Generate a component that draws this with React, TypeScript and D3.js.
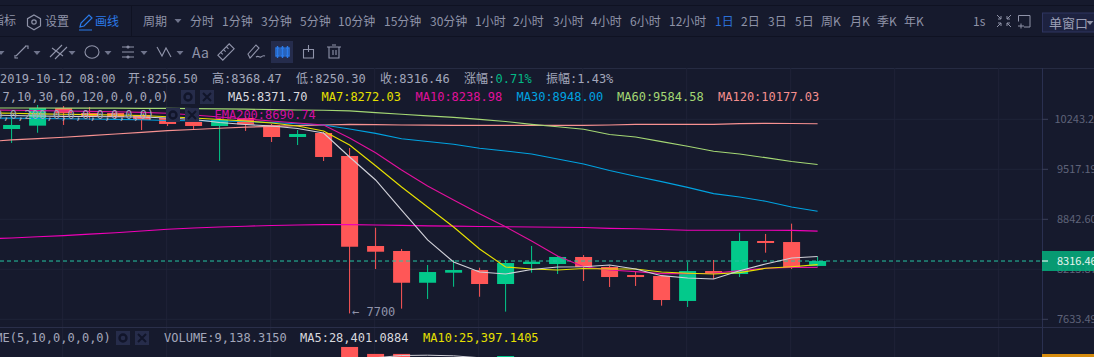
import React from "react";
import * as d3 from "d3";

const W = 1094, H = 357;
const BG = "#161a2d", GRID = "#1f2338", UP = "#03c98b", DOWN = "#ff5757";
const MONO = "'DejaVu Sans Mono','Noto Sans CJK SC',monospace";
const SANS = "'Noto Sans CJK SC','Noto Sans',sans-serif";

const priceTicks = [10243.2, 9517.19, 8842.6, 8215.87, 7633.49];
const priceTickLabels = ["10243.2", "9517.19", "8842.60", "8215.87", "7633.49"];
const opens = [10098,10148,10415,10339,10339,10309,10263,10203,10143,10263,10158,9980,10039,9705,8502,8440,8055,8175,8207,8040,8280,8280,8366,8244,8147,8135,7842,8195,8159,8565,8552,8256.5];
const closes = [10158,10415,10339,10293,10278,10233,10173,10143,10233,10166,9980,10024,9691,8493,8431,8055,8183,8207,8040,8292,8308,8366,8244,8123,8123,7853,8195,8168,8565,8540,8232,8316.46];
const highs = [10309,10461,10445,10430,10350,10354,10293,10233,10248,10293,10173,10083,10054,9820,8734,8465,8268,8329,8235,8329,8502,8378,8390,8256,8187,8147,8304,8329,8670,8654,8786,8368.47];
const lows = [9893,10043,10158,10233,10248,10083,10143,10098,9634,10069,9907,9863,9634,7700,8219,7754,7865,8008,7891,7720,8175,8159,8076,8005,8017,7788,7773,8100,8123,8419,8219,8250.3];
const volumes = [42000,61000,38000,30000,29000,36000,33000,31000,58000,34000,60000,41000,84000,147000,136000,136000,70000,66000,72000,132700,52000,44000,48000,39000,30000,64000,72000,37000,78000,33000,76000,9138.315];

// moving averages start one candle before the first visible candle
const ma5 = [10308,10301,10293,10288,10285,10281,10278,10263,10240,10195,10165,10143,10105,10039,9691,9369,8964,8578,8304,8183,8159,8213,8244,8247,8268,8219,8139,8111,8099,8199,8280,8353,8371.7];
const ma7 = [10339,10334,10326,10320,10314,10308,10301,10282,10263,10240,10218,10188,10143,10069,9864,9568,9273,9004,8743,8465,8244,8219,8207,8226,8219,8219,8183,8168,8159,8175,8228,8247,8272.03];
const ma10 = [10385,10380,10375,10369,10363,10357,10349,10334,10308,10278,10248,10218,10188,10158,9965,9753,9507,9286,9097,8916,8746,8565,8378,8247,8207,8187,8163,8163,8168,8199,8228,8240,8238.98];
const ma30 = [10263,10260,10255,10252,10248,10243,10236,10225,10221,10218,10210,10195,10177,10158,10098,10033,9955,9914,9874,9816,9777,9734,9663,9592,9500,9421,9347,9268,9182,9137,9080,9004,8948];
const ma60 = [10415,10415,10415,10413,10412,10412,10410,10410,10406,10401,10397,10391,10385,10380,10371,10345,10319,10296,10273,10243,10210,10168,10131,10094,10017,9980,9912,9845,9773,9734,9681,9627,9584.58];
const ma120 = [9910,9938,9957,9976,10001,10024,10048,10073,10091,10109,10126,10137,10149,10158,10168,10163,10158,10155,10153,10153,10153,10153,10153,10153,10158,10168,10168,10168,10168,10178,10183,10180,10177.03];
const ema200 = [8590,8603,8618,8633,8651,8669,8692,8714,8730,8743,8753,8762,8769,8773,8774,8769,8763,8758,8754,8750,8746,8743,8740,8737,8726,8720,8711,8701,8701,8701,8701,8700,8690.74];
const volMa5 = [52000,50000,50000,48000,47000,46000,45000,44000,45000,46000,48000,52000,60000,85000,130000,133500,134000,133000,130000,118000,96000,78000,60000,50000,44000,42000,48000,50000,56000,52000,44000,28401];

const periods = ["分时","1分钟","3分钟","5分钟","10分钟","15分钟","30分钟","1小时","2小时","3小时","4小时","6小时","12小时","1日","2日","3日","5日","周K","月K","季K","年K"];
const periodStarts = [190,222,261,300,338,384,430,475,513,553,591,630,669,715,741,768,795,821,850,877,904];

const x = d3.scaleLinear().domain([0, 31]).range([11.6, 817.6]);
const y = d3.scaleLog().domain([7633.49, 10243.2]).range([319.3, 119.3]);
const yVol = d3.scaleLinear().domain([0, 158000]).range([440, 340]);
const gridX = d3.range(62.7, 1040, 104);
const candleIdx = d3.range(opens.length);
const line = d3.line<number>().x((_, i) => x(i - 1)).y((d) => y(d));
const volLine = d3.line<number>().x((_, i) => x(i)).y((d) => yVol(d));

const overlays: [number[], string][] = [
  [ema200, "#f000b8"], [ma120, "#f79191"], [ma60, "#a4d774"], [ma30, "#00a2e0"],
  [ma10, "#e0109c"], [ma7, "#e6e000"], [ma5, "#d0d0d8"],
];

const Txt = ({ x, y, c = "#a3a7bb", f = MONO, s = 12, a, children }: any) => (
  <text x={x} y={y} fill={c} fontFamily={f} fontSize={s} textAnchor={a} xmlSpace="preserve">{children}</text>
);

const Caret = ({ x, y, c = "#6f748c" }: any) => <path d={`M${x - 3.5} ${y - 2}h7l-3.5 4z`} fill={c} />;

const CtrlBox = ({ x, y }: any) => (
  <g>
    <rect x={x} y={y} width={14} height={14} fill="#262c4a" />
    <circle cx={x + 7} cy={y + 7} r={3.5} fill="none" stroke="#11152a" strokeWidth={2.4} />
    <rect x={x + 19} y={y} width={14} height={14} fill="#262c4a" />
    <path d={`M${x + 22} ${y + 3}l8 8M${x + 30} ${y + 3}l-8 8`} stroke="#11152a" strokeWidth={2} />
  </g>
);

export default function App() {
  return (
    <svg width={W} height={H} viewBox={`0 0 ${W} ${H}`} style={{ position: "absolute", left: 0, top: 0, display: "block" }}>
      <defs>
        <clipPath id="pane"><rect x={0} y={68} width={1042} height={259.5} /></clipPath>
        <clipPath id="vol"><rect x={0} y={328} width={1042} height={29} /></clipPath>
      </defs>
      <rect width={W} height={H} fill={BG} />

      {/* toolbars */}
      <line x1={0} x2={W} y1={5.5} y2={5.5} stroke="#0f1222" />
      <line x1={0} x2={W} y1={36.5} y2={36.5} stroke="#0f1222" />
      <line x1={131.5} x2={131.5} y1={6} y2={36} stroke="#0f1222" />
      <line x1={0} x2={W} y1={68.5} y2={68.5} stroke="#262b42" />

      <Txt x={-8} y={25} f={SANS} c="#8f93a8">指标</Txt>
      <path d="M34 15l6.5 3.7v7.3l-6.5 3.7l-6.5-3.7v-7.3z" fill="none" stroke="#8f93a8" strokeWidth={1.2} />
      <circle cx={34} cy={22} r={2.2} fill="none" stroke="#8f93a8" strokeWidth={1.2} />
      <Txt x={45} y={25.5} f={SANS} c="#8f93a8">设置</Txt>
      <path d="M80 27l1-4 8-8 3 3-8 8zM79 30h13" fill="none" stroke="#2b7bea" strokeWidth={1.2} />
      <Txt x={95} y={25.5} f={SANS} c="#2b7bea">画线</Txt>
      <Txt x={143} y={25.5} f={SANS} c="#8f93a8">周期</Txt>
      <Caret x={178} y={21} />
      {periods.map((p, i) => (
        <Txt key={p} x={periodStarts[i]} y={25.5} f={SANS} c={p === "1日" ? "#2b6fd6" : "#8f93a8"}>{p}</Txt>
      ))}
      <Txt x={973} y={25.5} f={SANS} c="#8f93a8">1s</Txt>
      <path d="M997 15l4 4M1001 16v3h-3M1011 15l-4 4M1007 16v3h3M997 27l4-4M998 23h3v3M1011 27l-4-4M1010 23h-3v3" stroke="#8f93a8" fill="none" />
      <path d="M1018.5 15.5h11.5v11.5h-6M1018.5 15.5v6M1018 26h6M1021 23.5v5" stroke="#8f93a8" fill="none" />
      <rect x={1042.5} y={13} width={60} height={19} fill="#1d2240" stroke="#2f3560" />
      <Txt x={1049} y={28} s={13} f={SANS} c="#9a9eb4">单窗口</Txt>
      <Caret x={1090} y={23} c="#8f93a8" />

      {/* drawing tools */}
      <g fill="none" stroke="#9094aa" strokeWidth={1.1}>
        <path d="M16 56l10-10M25 46h3v3M15 55v3h3" />
        <path d="M50 57l12-12M55 59l12-12M52 48l11 8" />
        <ellipse cx={92} cy={52} rx={7} ry={6.2} />
        <path d="M122 47h12M122 52h12M122 57h12" />
        <circle cx={128} cy={47} r={1} /><circle cx={128} cy={57} r={1} />
        <path d="M157 47l5 9 4-8 5 9" />
        <g transform="rotate(-45 226 52)">
          <rect x={218} y={48.5} width={16} height={7} />
          <path d="M222 48.5v3M226 48.5v3M230 48.5v3" />
        </g>
        <path d="M250 58l-2-4 8-9 3 3-8 9zM256 57c3-2 3 1 5 0s2-2 4-1" />
        <path d="M303.5 49.5h10v8.5h-10zM308.5 45v7" />
        <path d="M327 47h14M329 47v11h10v-11M332 45h4M333 50v5M336 50v5" />
      </g>
      <Caret x={1} y={53} /><Caret x={37} y={53} /><Caret x={72} y={53} /><Caret x={108} y={53} /><Caret x={144} y={53} /><Caret x={180} y={53} />
      <Txt x={192} y={58} f={SANS} s={14} c="#8f93a8">Aa</Txt>
      <rect x={271} y={41} width={22} height={22} fill="#252c4c" />
      <g fill="none" stroke="#2b7bea" strokeWidth={1.4}>
        <rect x={276} y={48} width={3} height={8} /><rect x={281} y={48} width={3} height={8} /><rect x={286} y={48} width={3} height={8} />
        <path d="M277.5 46v12M282.5 46v12M287.5 46v12" />
      </g>

      {/* grid */}
      {priceTicks.map((t) => (
        <line key={t} x1={0} x2={1042} y1={y(t)} y2={y(t)} stroke={GRID} />
      ))}
      {gridX.map((g) => (
        <line key={g} x1={g} x2={g} y1={68} y2={H} stroke={GRID} />
      ))}

      {/* candles */}
      <g clipPath="url(#pane)">
        {candleIdx.map((i) => {
          const up = closes[i] >= opens[i];
          const c = up ? UP : DOWN;
          const top = y(Math.max(opens[i], closes[i]));
          const bot = y(Math.min(opens[i], closes[i]));
          return (
            <g key={i}>
              <line x1={x(i)} x2={x(i)} y1={y(highs[i])} y2={y(lows[i])} stroke={c} strokeWidth={1} />
              <rect x={x(i) - 8.5} y={top} width={17} height={Math.max(bot - top, 1)} fill={c} />
            </g>
          );
        })}
        <line x1={0} x2={1042} y1={y(closes[31])} y2={y(closes[31])} stroke="#26c6a2" strokeDasharray="4 3" />
        {overlays.map(([d, c], k) => (
          <path key={k} d={line(d) ?? ""} fill="none" stroke={c} strokeWidth={1.15} />
        ))}
      </g>
      <g clipPath="url(#vol)">
        {candleIdx.map((i) => (
          <rect key={i} x={x(i) - 8.5} y={yVol(volumes[i])} width={17} height={440 - yVol(volumes[i])} fill={closes[i] >= opens[i] ? UP : DOWN} />
        ))}
        <path d={volLine(volMa5) ?? ""} fill="none" stroke="#d0d0d8" />
      </g>

      <Txt x={352} y={316} c="#8f93aa">← 7700</Txt>

      {/* axis */}
      <line x1={0} x2={W} y1={327.5} y2={327.5} stroke="#2a2f4a" />
      <line x1={1042.5} x2={1042.5} y1={68} y2={H} stroke="#2a3050" />
      {priceTicks.map((t, i) => (
        <g key={t}>
          <line x1={1042} x2={1048} y1={y(t)} y2={y(t)} stroke="#3a3f58" />
          <Txt x={i === 0 ? 1054.5 : 1057} y={y(t) + 3.5} s={11} f={SANS} c="#5f6379">{priceTickLabels[i]}</Txt>
        </g>
      ))}
      <rect x={1042} y={251} width={52} height={20} fill="#05a87a" fillOpacity={0.9} />
      <line x1={1042} x2={1048} y1={261} y2={261} stroke="#fff" strokeWidth={1} />
      <Txt x={1057} y={264.5} s={11} f={SANS} c="#e8f5f0">8316.46</Txt>
      <rect x={1042} y={354} width={52} height={3} fill="#d68c0e" />

      {/* legends */}
      <Txt x={0} y={83}>2019-10-12 08:00</Txt>
      <Txt x={128} y={83}>开:8256.50</Txt>
      <Txt x={212} y={83}>高:8368.47</Txt>
      <Txt x={296} y={83}>低:8250.30</Txt>
      <Txt x={380} y={83}>收:8316.46</Txt>
      <Txt x={464} y={83}>涨幅:</Txt>
      <Txt x={495.5} y={83} c="#03b886">0.71%</Txt>
      <Txt x={546} y={83}>振幅:1.43%</Txt>

      <Txt x={-4.8} y={101}>,7,10,30,60,120,0,0,0,0)</Txt>
      <CtrlBox x={181} y={90} />
      <Txt x={228} y={101} c="#d8d8de">MA5:8371.70</Txt>
      <Txt x={321.5} y={101} c="#e6e000">MA7:8272.03</Txt>
      <Txt x={415.5} y={101} c="#e0109c">MA10:8238.98</Txt>
      <Txt x={516.5} y={101} c="#00a2e0">MA30:8948.00</Txt>
      <Txt x={617} y={101} c="#a4d774">MA60:9584.58</Txt>
      <Txt x={718} y={101} c="#f58f8f">MA120:10177.03</Txt>

      <Txt x={-4.7} y={119}>0,0,200,0,0,0,0,0,0,0)</Txt>
      <CtrlBox x={166} y={108} />
      <Txt x={214.5} y={119} c="#d40ea0">EMA200:8690.74</Txt>

      <Txt x={-33.7} y={342}>VOLUME(5,10,0,0,0,0)</Txt>
      <CtrlBox x={116} y={331} />
      <Txt x={164} y={342}>VOLUME:9,138.3150</Txt>
      <Txt x={300} y={342} c="#d8d8de">MA5:28,401.0884</Txt>
      <Txt x={423} y={342} c="#e6e000">MA10:25,397.1405</Txt>
    </svg>
  );
}
